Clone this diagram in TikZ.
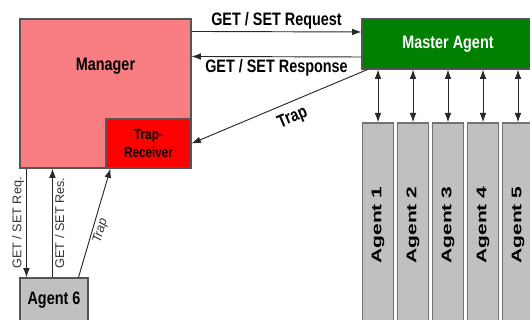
\documentclass[tikz,border=0pt]{standalone}
\usepackage{fontspec}
\setmainfont{Liberation Sans}
\newfontfamily\narrowfont{Liberation Sans}[FakeStretch=0.8]
\newfontfamily\wideagentfont{Liberation Sans}[FakeStretch=1.5]
\usetikzlibrary{arrows.meta}
\definecolor{managerpink}{RGB}{249, 126, 130}
\definecolor{trapred}{RGB}{255, 0, 0}
\definecolor{mastergreen}{RGB}{0, 128, 0}
\definecolor{agentgray}{RGB}{192, 192, 192}
\definecolor{edgegray}{RGB}{85, 85, 85}
\definecolor{linegray}{RGB}{40, 40, 40}

\begin{document}
\begin{tikzpicture}[
  x=0.75pt, y=-0.75pt,
  >={Latex[length=7pt, width=5pt]},
  box/.style={draw=edgegray, line width=0.8pt, inner sep=0pt},
  mainlbl/.style={font=\narrowfont\bfseries\fontsize{13.5pt}{16pt}\selectfont},
  smalllbl/.style={font=\fontsize{9.5pt}{11pt}\selectfont, text=black!80, inner sep=1.5pt},
  agent/.style={box, fill=agentgray, draw=black!55, line width=1.1pt, minimum width=23.25pt, minimum height=153pt, font=\wideagentfont\bfseries\fontsize{10.5pt}{12pt}\selectfont},
  link/.style={draw=linegray, line width=0.7pt}
]
\useasboundingbox (0,0) rectangle (530,320);
\clip (0,0) rectangle (530,320);
\node[box, fill=managerpink, minimum width=128.25pt, minimum height=111.75pt, label={[mainlbl, anchor=center, yshift=-36pt]north:Manager}] (manager) at (105.5,93.5) {};
\node[box, fill=trapred, minimum width=63.75pt, minimum height=36.75pt, align=center, font=\narrowfont\bfseries\fontsize{11pt}{14pt}\selectfont] (trap) at (148.5,143.5) {Trap-\\Receiver};
\node[box, fill=mastergreen, text=white, mainlbl, minimum width=129pt, minimum height=37.5pt] (master) at (448,44) {Master Agent};
\foreach \i/\x in {1/378, 2/413, 3/448, 4/483, 5/518}
  \node[agent] (agent\i) at (\x,225) {\rotatebox{90}{Agent \i}};
\node[box, fill=agentgray, mainlbl, minimum width=51pt, minimum height=33pt] (agent6) at (54,300) {Agent 6};
\draw[->, link] ([yshift=-9.75pt]manager.north east) -- node[above, mainlbl, inner sep=1.5pt] {GET / SET Request} ([yshift=9pt]master.west);
\draw[->, link] ([yshift=-9.75pt]master.west) -- node[below, mainlbl, inner sep=1.5pt] {GET / SET Response} ([yshift=-28.5pt]manager.north east);
\draw[->, link] ([xshift=4.5pt]master.south west) -- node[sloped, below, mainlbl, inner sep=5.5pt, pos=0.46] {Trap} (trap.east);
\foreach \i in {1,...,5}
  \draw[<->, link] (agent\i.north |- master.south) -- (agent\i.north);
\draw[->, link] ([xshift=5.25pt]manager.south west) -- node[smalllbl, rotate=90, anchor=south] {GET / SET Req.} ([xshift=5.25pt]agent6.north west);
\draw[->, link] ([xshift=24.75pt]agent6.north west) -- node[smalllbl, rotate=90, anchor=north] {GET / SET Res.} ([xshift=24.75pt]manager.south west);
\draw[->, link] ([xshift=44.25pt]agent6.north west) -- node[smalllbl, sloped, below, pos=0.45, font=\itshape\fontsize{9.5pt}{11pt}\selectfont] {Trap} ([xshift=3.75pt]trap.south west);
\end{tikzpicture}
\end{document}
